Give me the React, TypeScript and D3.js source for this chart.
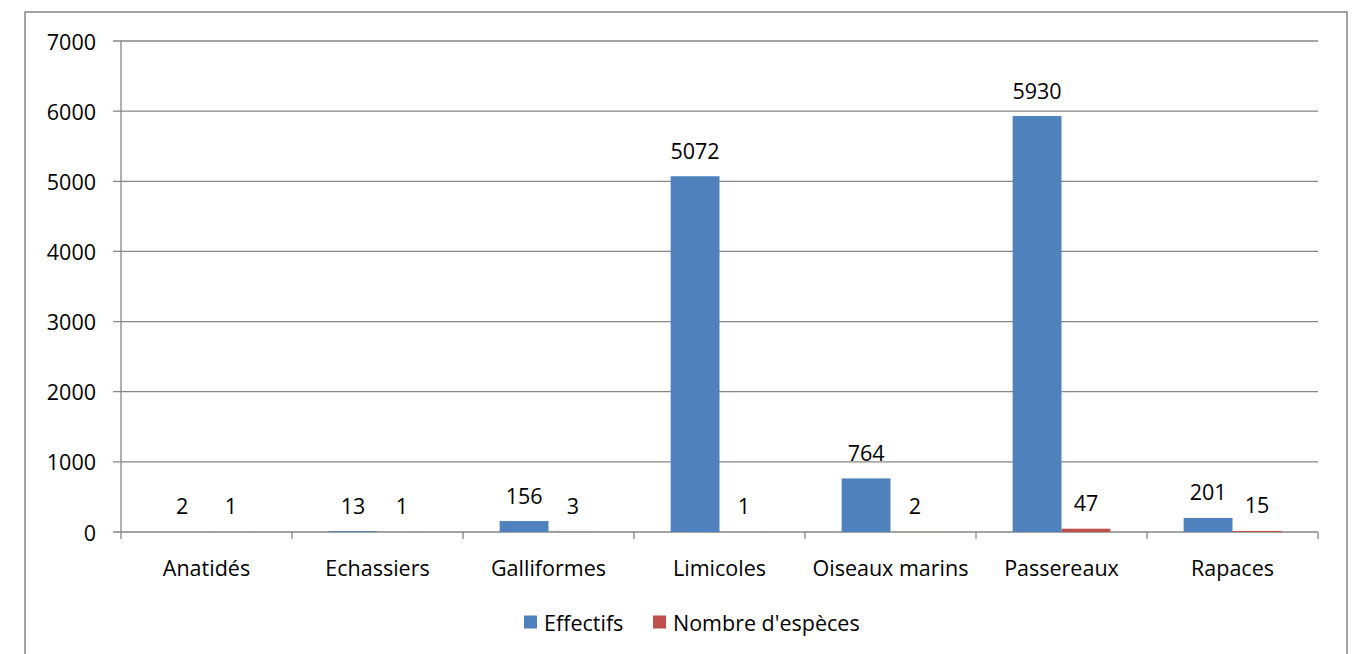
import React from "react";
import * as d3 from "d3";

const categories = ["Anatidés", "Echassiers", "Galliformes", "Limicoles", "Oiseaux marins", "Passereaux", "Rapaces"];
const effectifs = [2, 13, 156, 5072, 764, 5930, 201];
const especes = [1, 1, 3, 1, 2, 47, 15];
const seriesNames = ["Effectifs", "Nombre d'espèces"];
const yTicks = [0, 1000, 2000, 3000, 4000, 5000, 6000, 7000];

const W = 1354;
const H = 654;
const FONT = "'Open Sans', sans-serif";
const COLORS = ["#4F81BD", "#C0504D"];
const GRID = "#868686";

export default function App() {
  const left = 121, right = 1318, top = 41, bottom = 532;
  const x = d3.scaleBand<string>().domain(categories).range([left, right]).paddingInner(0).paddingOuter(0);
  const bw = x.bandwidth();
  const barW = bw / 3.5;
  const y = d3.scaleLinear().domain([0, 7000]).range([bottom, top]);
  const series = [effectifs, especes];
  const fs = 21.5;

  return (
    <svg width={W} height={H} style={{ position: "fixed", left: 0, top: 0, background: "#fff" }} fontFamily={FONT}>
      <rect x={25} y={12} width={1322} height={700} fill="#fff" stroke={GRID} strokeWidth={1.5} />
      {yTicks.map((t) => (
        <g key={t}>
          <line x1={left - 8} x2={right} y1={y(t)} y2={y(t)} stroke={GRID} strokeWidth={1.3} />
          <text x={96} y={y(t)} textAnchor="end" dominantBaseline="central" fontSize={fs} fill="#000">
            {t}
          </text>
        </g>
      ))}
      <line x1={left} x2={left} y1={top} y2={bottom} stroke={GRID} strokeWidth={1.3} />
      {d3.range(categories.length + 1).map((i) => (
        <line key={i} x1={left + i * bw} x2={left + i * bw} y1={bottom} y2={bottom + 7} stroke={GRID} strokeWidth={1.3} />
      ))}
      {categories.map((c, i) => {
        const cx = (x(c) as number) + bw / 2;
        return (
          <g key={c}>
            {series.map((s, k) => {
              const bx = cx - barW + k * barW;
              const v = s[i];
              return (
                <g key={k}>
                  <rect x={bx} y={y(v)} width={barW} height={bottom - y(v)} fill={COLORS[k]} />
                  <text x={bx + barW / 2} y={y(v) - 26} textAnchor="middle" dominantBaseline="central" fontSize={fs} fill="#000">
                    {v}
                  </text>
                </g>
              );
            })}
            <text x={cx} y={567} textAnchor="middle" dominantBaseline="central" fontSize={fs} fill="#000">
              {c}
            </text>
          </g>
        );
      })}
      {seriesNames.map((n, k) => {
        const lx = [524, 653][k];
        return (
          <g key={n}>
            <rect x={lx} y={615.5} width={13} height={13} fill={COLORS[k]} />
            <text x={lx + 20} y={622} dominantBaseline="central" fontSize={fs} fill="#000">
              {n}
            </text>
          </g>
        );
      })}
    </svg>
  );
}
